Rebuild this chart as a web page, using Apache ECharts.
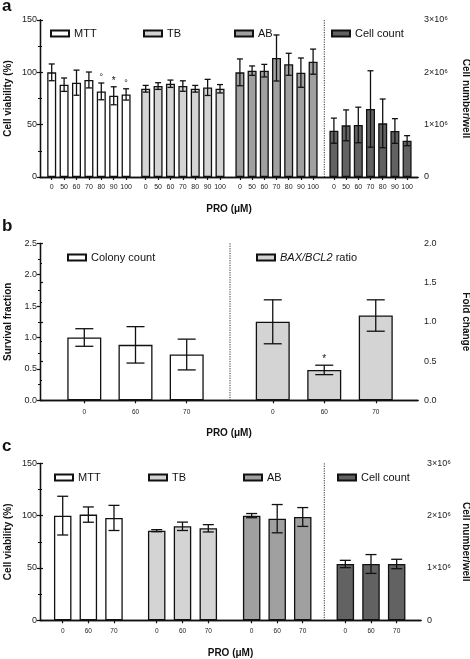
<!DOCTYPE html>
<html><head><meta charset="utf-8">
<script src="https://cdn.jsdelivr.net/npm/echarts@6/dist/echarts.min.js"></script>
<style>html,body{margin:0;padding:0;background:#fff}#c{width:470px;height:659px}</style>
</head><body><div id="c"></div>
<script>
// ---------- DATA ----------
const doseA = ['0','50','60','70','80','90','100'];
const mttA = [100, 88.2, 90.1, 92.7, 81.8, 77.6, 78.9];
const mttAErr = [8, 6.4, 12, 7.6, 8, 8.6, 5.4];
const mttAMark = ['', '', '', '', '°', '*', '°'];
const tbA = [84.3, 86.9, 89.1, 86.9, 84.3, 85.6, 84.3];
const tbAErr = [3.2, 3.2, 3.5, 5, 3.2, 7.7, 4];
const abA = [100, 101.6, 101.6, 113.7, 107.7, 99.7, 110.2];
const abAErr = [12.8, 4.5, 6, 22, 10.5, 14, 12];
const cellA = [0.885e6, 0.987e6, 0.994e6, 1.30e6, 1.025e6, 0.879e6, 0.694e6];
const cellAErr = [0.24e6, 0.295e6, 0.34e6, 0.73e6, 0.465e6, 0.236e6, 0.096e6];

const doseB = ['0','60','70'];
const colonyB = [1.0, 0.883, 0.729];
const colonyBErr = [0.14, 0.29, 0.245];
const baxB = [1.0, 0.387, 1.08];
const baxBErr = [0.28, 0.06, 0.2];
const baxBMark = ['', '*', ''];

const doseC = ['0','60','70'];
const mttC = [100, 101, 97.8];
const mttCErr = [18.5, 7.3, 12];
const tbC = [85.6, 89.8, 87.9];
const tbCErr = [1, 4, 3.5];
const abC = [100, 97.1, 98.7];
const abCErr = [2, 13.5, 9];
const cellC = [1.076e6, 1.076e6, 1.076e6];
const cellCErr = [0.07e6, 0.18e6, 0.09e6];

const viabTicks = {min:0, max:150, interval:50};
const cellTicks = {min:0, max:3e6, interval:1e6};
const survTicks = {min:0, max:2.5, interval:0.5};
const foldTicks = {min:0, max:2.0, interval:0.5};

// ---------- STYLE ----------
const FF = 'Liberation Sans, Arial, sans-serif';
const INK = '#111';
const COL = {MTT:'#ffffff', TB:'#d4d4d4', AB:'#a0a0a0', CELL:'#626262'};
const sci = v => v === 0 ? '0' : (v/1e6) + '×10⁶';
const dec1 = v => v.toFixed(1);

const opt = {animation:false, grid:[], xAxis:[], yAxis:[], series:[], legend:[], graphic:[], title:[]};

function errRender(capW, marks) {
  return function(params, api) {
    const x = api.value(0);
    const lo = api.coord([x, api.value(1)]);
    const hi = api.coord([x, api.value(2)]);
    const st = {stroke: INK, lineWidth: 1.3};
    const ch = [
      {type:'line', shape:{x1:lo[0], y1:lo[1], x2:hi[0], y2:hi[1]}, style:st},
      {type:'line', shape:{x1:hi[0]-capW/2, y1:hi[1], x2:hi[0]+capW/2, y2:hi[1]}, style:st},
      {type:'line', shape:{x1:lo[0]-capW/2, y1:lo[1], x2:lo[0]+capW/2, y2:lo[1]}, style:st}
    ];
    const m = marks ? marks[params.dataIndex] : '';
    if (m) {
      ch.push({type:'text', x:hi[0], y:hi[1]-1, style:{text:m, fill:INK, fontSize: m === '*' ? 10 : 9, fontFamily:FF, align:'center', verticalAlign:'bottom'}});
    }
    return {type:'group', children:ch};
  };
}

function axisY(gi, pos, t, name, fmt, gap, rot, margin) {
  return {gridIndex:gi, type:'value', position:pos, min:t.min, max:t.max, interval:t.interval,
    axisLine:{show:true, lineStyle:{color:INK, width:1.3}},
    axisTick:{show:true, length:3, lineStyle:{color:INK, width:1.2}},
    minorTick:{show:true, splitNumber:2, length:2, lineStyle:{color:INK, width:1}},
    axisLabel:{show:true, fontSize:9, color:'#222', margin:margin, fontFamily:FF, formatter:fmt},
    splitLine:{show:false}, minorSplitLine:{show:false},
    name:name, nameLocation:'middle', nameRotate:rot, nameGap:gap, nameMoveOverlap:false,
    nameTextStyle:{fontWeight:'bold', fontSize:10, color:INK, fontFamily:FF}};
}

function addPanel(p) {
  const gi = opt.grid.length;
  opt.grid.push({left:p.left, top:p.top, width:p.width, height:p.height, outerBoundsMode:'none', containLabel:false});
  const lineOnly = {show:true, lineStyle:{color:INK, width:1.3}};
  opt.xAxis.push({gridIndex:gi, type:'value', min:0, max:1, position:'bottom', axisLine:lineOnly,
    axisTick:{show:false}, axisLabel:{show:false}, splitLine:{show:false},
    name:'PRO (μM)', nameLocation:'middle', nameGap:p.xNameGap, nameMoveOverlap:false,
    nameTextStyle:{fontWeight:'bold', fontSize:10, color:INK, fontFamily:FF}});
  opt.xAxis.push({gridIndex:gi, type:'value', min:0, max:1, position:'top', axisLine:lineOnly,
    axisTick:{show:false}, axisLabel:{show:false}, splitLine:{show:false}});
  opt.yAxis.push(axisY(gi, 'left', p.lt, p.lName, p.lFmt, p.lGap, 90, 3));
  opt.yAxis.push(axisY(gi, 'right', p.rt, p.rName, p.rFmt, p.rGap, -90, 6));
  opt.graphic.push({type:'line', silent:true, shape:{x1:p.divider, y1:p.top, x2:p.divider, y2:p.top+p.height},
    style:{stroke:'#333', lineWidth:1, lineDash:[1.2,1.2]}});
  opt.title.push({text:p.letter, left:p.letterLeft, top:p.letterTop, padding:0,
    textStyle:{fontSize:17, fontWeight:'bold', color:INK, fontFamily:FF}});
  p.groups.forEach(g => {
    const gj = opt.grid.length;
    opt.grid.push({left:g.left, top:p.top, width:g.width, height:p.height, outerBoundsMode:'none', containLabel:false});
    const xi = opt.xAxis.length;
    opt.xAxis.push({gridIndex:gj, type:'category', data:g.cats,
      axisLine:{show:false}, axisTick:{show:true, alignWithLabel:true, length:3, lineStyle:{color:INK, width:1.2}},
      axisLabel:{show:true, fontSize:p.xFont, color:'#222', margin:p.xMargin, fontFamily:FF, interval:0},
      splitLine:{show:false}});
    const yi = opt.yAxis.length;
    const t = g.right ? p.rt : p.lt;
    opt.yAxis.push({gridIndex:gj, type:'value', min:t.min, max:t.max, show:false, splitLine:{show:false}});
    opt.series.push({type:'bar', name:g.name, xAxisIndex:xi, yAxisIndex:yi, data:g.values,
      barWidth:p.barWidth, itemStyle:{color:g.color, borderColor:INK, borderWidth:1.3}, z:2, silent:true});
    opt.series.push({type:'custom', xAxisIndex:xi, yAxisIndex:yi, silent:true, z:3,
      encode:{x:0, y:[1,2]},
      data:g.values.map((v,i) => [i, v - g.errs[i], v + g.errs[i]]),
      renderItem: errRender(p.capW, g.marks)});
    opt.legend.push({data:[g.name], left:g.lgLeft, top:g.lgTop, orient:'horizontal', padding:0,
      itemWidth:18, itemHeight:6, itemGap:0, selectedMode:false, icon:'rect',
      formatter: g.lgFmt || (n => n),
      textStyle:{fontSize:11, color:INK, fontFamily:FF,
        rich:{i:{fontStyle:'italic', fontSize:11, color:INK, fontFamily:FF}}}});
  });
}

// Panel a
addPanel({letter:'a', letterLeft:2, letterTop:-2, left:40, top:20, width:378, height:157,
  lt:viabTicks, rt:cellTicks, lName:'Cell viability (%)', rName:'Cell number/well',
  lFmt:v => String(v), rFmt:sci, lGap:27, rGap:43, xNameGap:27, xFont:7, xMargin:7,
  divider:324.3, barWidth:9, capW:6,
  groups:[
    {name:'MTT', cats:doseA, values:mttA, errs:mttAErr, marks:mttAMark, color:COL.MTT, left:45.5, width:86.8, lgLeft:50, lgTop:28},
    {name:'TB', cats:doseA, values:tbA, errs:tbAErr, color:COL.TB, left:139.5, width:86.7, lgLeft:143, lgTop:28},
    {name:'AB', cats:doseA, values:abA, errs:abAErr, color:COL.AB, left:233.8, width:85.4, lgLeft:234, lgTop:28},
    {name:'Cell count', cats:doseA, values:cellA, errs:cellAErr, color:COL.CELL, right:true, left:327.8, width:85.4, lgLeft:331, lgTop:28}
  ]});

// Panel b
addPanel({letter:'b', letterLeft:2, letterTop:218, left:40, top:243.3, width:378, height:157,
  lt:survTicks, rt:foldTicks, lName:'Survival fraction', rName:'Fold change',
  lFmt:dec1, rFmt:dec1, lGap:27, rGap:43, xNameGap:28, xFont:6.5, xMargin:8,
  divider:230, barWidth:34, capW:18,
  groups:[
    {name:'Colony count', cats:doseB, values:colonyB, errs:colonyBErr, color:COL.MTT, left:58.7, width:153.6, lgLeft:67, lgTop:252},
    {name:'BAX/BCL2 ratio', cats:doseB, values:baxB, errs:baxBErr, marks:baxBMark, color:COL.TB, right:true, left:247, width:154.5, lgLeft:256, lgTop:252,
      lgFmt: () => '{i|BAX/BCL2} ratio'}
  ]});

// Panel c
addPanel({letter:'c', letterLeft:2, letterTop:438, left:40, top:463.3, width:381, height:157,
  lt:viabTicks, rt:cellTicks, lName:'Cell viability (%)', rName:'Cell number/well',
  lFmt:v => String(v), rFmt:sci, lGap:27, rGap:40, xNameGap:28, xFont:6.5, xMargin:7,
  divider:324.3, barWidth:17.5, capW:11,
  groups:[
    {name:'MTT', cats:doseC, values:mttC, errs:mttCErr, color:COL.MTT, left:49.9, width:76.9, lgLeft:54, lgTop:472},
    {name:'TB', cats:doseC, values:tbC, errs:tbCErr, color:COL.TB, left:143.8, width:77.4, lgLeft:148, lgTop:472},
    {name:'AB', cats:doseC, values:abC, errs:abCErr, color:COL.AB, left:238.9, width:76.6, lgLeft:243, lgTop:472},
    {name:'Cell count', cats:doseC, values:cellC, errs:cellCErr, color:COL.CELL, right:true, left:332.5, width:77, lgLeft:337, lgTop:472}
  ]});

const chart = echarts.init(document.getElementById('c'), null, {renderer:'canvas'});
chart.setOption(opt);
</script></body></html>
